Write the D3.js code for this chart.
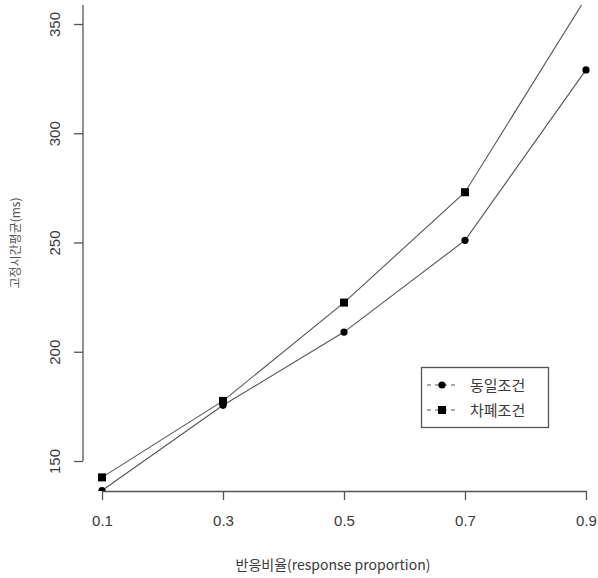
<!DOCTYPE html>
<html><head><meta charset="utf-8">
<script src="https://cdn.jsdelivr.net/npm/d3@7/dist/d3.min.js"></script>
<style>body{margin:0;background:#fff}svg{display:block}</style>
</head><body><svg id="c" width="598" height="578"></svg>
<script>
const proportions = [0.1, 0.3, 0.5, 0.7, 0.9];
const sameCond = [136.5, 175.5, 209, 251, 329];
const maskCond = [142.5, 177.5, 222.5, 273, 362];
const seriesNames = ["동일조건", "차폐조건"];
const xTicks = [0.1, 0.3, 0.5, 0.7, 0.9];
const yTicks = [150, 200, 250, 300, 350];

const svg = d3.select("#c");
const x = d3.scaleLinear().domain([0.1, 0.9]).range([102, 586]);
const y = d3.scaleLinear().domain([150, 350]).range([461, 24]);
const plotL = 83, plotR = 605, plotT = 5, plotB = 491;
const txt = "#3a3a3a", lineC = "#555";
const latin = "'Liberation Sans', Arial, sans-serif";
const kor = "'Noto Sans CJK KR', 'Liberation Sans', sans-serif";

svg.append("defs").append("clipPath").attr("id", "clip")
  .append("rect").attr("x", plotL).attr("y", plotT).attr("width", plotR - plotL).attr("height", plotB - plotT);

// X axis
const xa = svg.append("g").attr("transform", `translate(0,${plotB})`)
  .call(d3.axisBottom(x).tickValues(xTicks).tickFormat(d3.format(".1f")).tickSize(9).tickSizeOuter(0));
xa.select(".domain").attr("stroke", lineC).attr("stroke-width", 1.3);
xa.selectAll(".tick line").attr("stroke", lineC).attr("stroke-width", 1.3);
xa.selectAll(".tick text").attr("fill", txt).attr("font-size", 15).attr("font-family", latin).attr("dy", "1.55em");

// Y axis
const ya = svg.append("g").attr("transform", `translate(${plotL},0)`)
  .call(d3.axisLeft(y).tickValues(yTicks).tickSize(9).tickSizeOuter(0));
ya.select(".domain").attr("d", `M0,${y(150)}V${plotT}`).attr("stroke", lineC).attr("stroke-width", 1.3);
ya.selectAll(".tick line").attr("stroke", lineC).attr("stroke-width", 1.3);
ya.selectAll(".tick text").attr("fill", txt).attr("font-size", 15).attr("font-family", latin)
  .attr("x", null).attr("dy", null).attr("text-anchor", "middle")
  .attr("transform", "translate(-23,0) rotate(-90)");

// Titles
svg.append("text").attr("x", 333).attr("y", 570).attr("text-anchor", "middle")
  .attr("font-family", kor).attr("font-size", 14).attr("fill", txt).text("반응비율(response proportion)");
svg.append("text").attr("transform", `translate(20,243) rotate(-90)`).attr("text-anchor", "middle")
  .attr("font-family", kor).attr("font-size", 12).attr("fill", "#555").text("고정시간평균(ms)");

// Lines & points
const g = svg.append("g").attr("clip-path", "url(#clip)");
const line = d3.line().x((d, i) => x(proportions[i])).y(d => y(d));
[sameCond, maskCond].forEach(s => {
  g.append("path").datum(s).attr("d", line).attr("fill", "none").attr("stroke", lineC).attr("stroke-width", 1.1);
});
g.selectAll("circle.p").data(sameCond).join("circle")
  .attr("cx", (d, i) => x(proportions[i])).attr("cy", d => y(d)).attr("r", 3.6).attr("fill", "#000");
g.selectAll("rect.p").data(maskCond).join("rect")
  .attr("x", (d, i) => x(proportions[i]) - 4).attr("y", d => y(d) - 4).attr("width", 8).attr("height", 8).attr("fill", "#000");

// Legend
const lg = svg.append("g");
lg.append("rect").attr("x", 421.5).attr("y", 367.5).attr("width", 127).attr("height", 60)
  .attr("fill", "#fff").attr("stroke", lineC).attr("stroke-width", 1.3);
seriesNames.forEach((n, i) => {
  const yy = 385 + i * 25;
  lg.append("line").attr("x1", 427).attr("x2", 459).attr("y1", yy).attr("y2", yy)
    .attr("stroke", lineC).attr("stroke-width", 1.1).attr("stroke-dasharray", "4,4");
  if (i === 0) lg.append("circle").attr("cx", 442).attr("cy", yy).attr("r", 3.6).attr("fill", "#000");
  else lg.append("rect").attr("x", 438).attr("y", yy - 4).attr("width", 8).attr("height", 8).attr("fill", "#000");
  lg.append("text").attr("x", 470).attr("y", yy + 5.5).attr("font-family", kor).attr("font-size", 15)
    .attr("fill", txt).text(n);
});
</script></body></html>
